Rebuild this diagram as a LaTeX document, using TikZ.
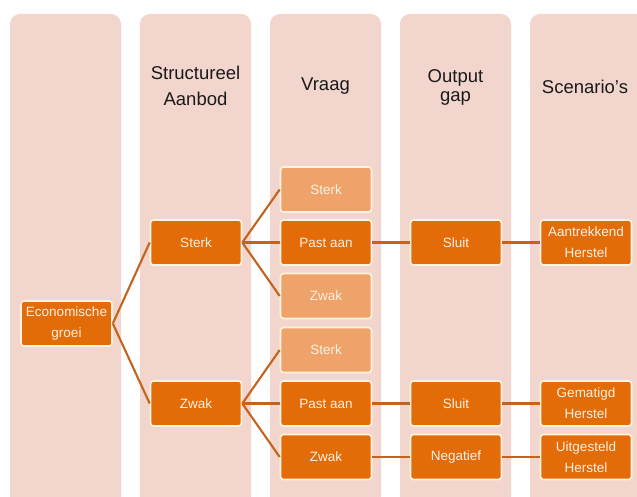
\documentclass[tikz,border=0pt]{standalone}
\usepackage{fontspec}
\setmainfont{Liberation Sans}
\definecolor{colbg}{HTML}{F2D6CD}
\definecolor{dkor}{HTML}{E36C09}
\definecolor{ltor}{HTML}{EDA369}
\definecolor{cream}{HTML}{FFF3DE}
\definecolor{boxtxt}{HTML}{FDF0E4}
\definecolor{conncol}{HTML}{C4631C}
\definecolor{hdrtxt}{HTML}{1A1A1A}
\tikzset{
  colbox/.style={fill=colbg, rounded corners=10pt},
  dk/.style={draw=cream, line width=1.6pt, fill=dkor, rounded corners=3pt,
    minimum width=91pt, minimum height=45pt, inner sep=1pt, align=center,
    text=boxtxt, font=\fontsize{13.5}{21}\selectfont},
  lt/.style={dk, fill=ltor},
  hdr/.style={align=center, text=hdrtxt, inner sep=0pt, font=\fontsize{18.5}{26}\selectfont},
  conn/.style={draw=conncol, line width=2.1pt}
}
\begin{document}
\begin{tikzpicture}[x=1pt,y=-1pt]
\useasboundingbox (0,0) rectangle (637,497);
\clip (0,0) rectangle (637,497);
\fill[white] (0,0) rectangle (637,497);
% columns
\fill[colbox] (10,14) rectangle (121,506);
\fill[colbox] (140,14) rectangle (251,506);
\fill[colbox] (270,14) rectangle (381,506);
\fill[colbox] (400,14) rectangle (511,506);
\fill[colbox] (530,14) rectangle (660,506);
% headers
\node[hdr] (h2) at (195.5,86) {Structureel\\Aanbod};
\node[hdr] (h3) at (325.5,86.5) {Vraag};
\node[hdr, font=\fontsize{18.5}{19.5}\selectfont] (h4) at (455.5,87.5) {Output\\gap};
\node[hdr] (h5) at (585,87) {Scenario{\char"27}s};
% boxes
\node[dk] (eg) at (66.5,323.5) {Economische\\groei};
\node[dk] (s2) at (196,242.5) {Sterk};
\node[dk] (z2) at (196,403.5) {Zwak};
\node[lt] (v1) at (326,189.5) {Sterk};
\node[dk] (v2) at (326,242.5) {Past aan};
\node[lt] (v3) at (326,296) {Zwak};
\node[lt] (v4) at (326,350) {Sterk};
\node[dk] (v5) at (326,403.5) {Past aan};
\node[dk] (v6) at (326,457) {Zwak};
\node[dk] (o1) at (456,242.5) {Sluit};
\node[dk] (o2) at (456,403.5) {Sluit};
\node[dk] (o3) at (456,457) {Negatief};
\node[dk] (r1) at (586,242.5) {Aantrekkend\\Herstel};
\node[dk] (r2) at (586,403.5) {Gematigd\\Herstel};
\node[dk] (r3) at (586,457) {Uitgesteld\\Herstel};
% connectors
\draw[conn] (eg.east) -- (s2.west);
\draw[conn] (eg.east) -- (z2.west);
\draw[conn] (s2.east) -- (v1.west);
\draw[conn] (s2.east) -- (v2.west);
\draw[conn] (s2.east) -- (v3.west);
\draw[conn] (z2.east) -- (v4.west);
\draw[conn] (z2.east) -- (v5.west);
\draw[conn] (z2.east) -- (v6.west);
\draw[conn] (v2.east) -- (o1.west);
\draw[conn] (o1.east) -- (r1.west);
\draw[conn] (v5.east) -- (o2.west);
\draw[conn] (o2.east) -- (r2.west);
\draw[conn] (v6.east) -- (o3.west);
\draw[conn] (o3.east) -- (r3.west);
\end{tikzpicture}
\end{document}
